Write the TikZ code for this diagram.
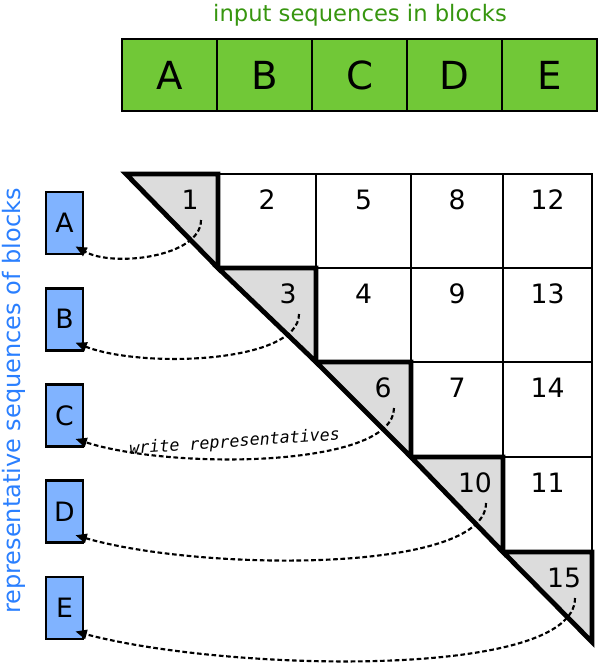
\documentclass[tikz,border=0pt]{standalone}
\usepackage{fontspec}
\setmainfont{DejaVu Sans}
\setmonofont{DejaVu Sans Mono}
\usetikzlibrary{arrows.meta, calc, positioning}

\definecolor{blockgreen}{RGB}{113,200,55}
\definecolor{titlegreen}{RGB}{55,150,15}
\definecolor{repblue}{RGB}{128,179,255}
\definecolor{labelblue}{RGB}{42,127,255}
\definecolor{diaggray}{RGB}{220,220,220}

\begin{document}
\begin{tikzpicture}[
  x=0.75pt, y=-0.75pt,
  >={Triangle[length=8.5pt, width=7pt]},
  block/.style={rectangle, draw, line width=1.6pt, fill=blockgreen, outer sep=0pt,
    minimum width=71.25pt, minimum height=54pt, inner sep=0pt,
    font=\fontsize{29}{34}\selectfont},
  repbox/.style={rectangle, draw, line width=2.2pt, fill=repblue,
    minimum width=27.75pt, minimum height=46.5pt, inner sep=0pt,
    font=\fontsize{20}{24}\selectfont},
  gridcell/.style={draw, line width=1.9pt},
  diagcell/.style={draw, fill=diaggray, line width=3.6pt, line join=miter},
  num/.style={font=\fontsize{20}{24}\selectfont, inner sep=0pt},
  writearrow/.style={->, dash pattern=on 3.5pt off 2pt, line width=1.6pt}
]

\useasboundingbox (0,0) rectangle (600,664);

% Title
\node[font=\fontsize{17}{20}\selectfont, text=titlegreen, anchor=base] (title) at (360,21) {input sequences in blocks};

% Input blocks
\node[block] (bA) at (169.5,75) {A};
\node[block, right=0pt of bA] (bB) {B};
\node[block, right=0pt of bB] (bC) {C};
\node[block, right=0pt of bC] (bD) {D};
\node[block, right=0pt of bD] (bE) {E};

% Grid of blocks
\def\cx{{126,218,316,411,503,592}}
\def\ry{{174,268,362,457,552,642}}
\foreach \r/\c/\n in {0/1/2, 0/2/5, 0/3/8, 0/4/12, 1/2/4, 1/3/9, 1/4/13, 2/3/7, 2/4/14, 3/4/11}{
  \pgfmathsetmacro\xl{\cx[\c]}
  \pgfmathsetmacro\xr{\cx[\c+1]}
  \pgfmathsetmacro\yt{\ry[\r]}
  \pgfmathsetmacro\yb{\ry[\r+1]}
  \draw[gridcell] (\xl,\yt) rectangle (\xr,\yb);
  \node[num] (n\n) at ({(\xl+\xr)/2},\yt+26) {\n};
}

% Diagonal blocks
\foreach \i/\n in {0/1, 1/3, 2/6, 3/10, 4/15}{
  \pgfmathsetmacro\xl{\cx[\i]}
  \pgfmathsetmacro\xr{\cx[\i+1]}
  \pgfmathsetmacro\yt{\ry[\i]}
  \pgfmathsetmacro\yb{\ry[\i+1]}
  \filldraw[diagcell] (\xl,\yt) -- (\xr,\yt) -- (\xr,\yb) -- cycle;
  \node[num] (n\n) at (\xr-28,\yt+26) {\n};
  \coordinate (s\n) at (\xr-17,\yt+46);
}

% Representatives
\foreach \l [count=\k from 0] in {A,B,C,D,E}
  \node[repbox] (r\l) at (64.5,223+96.25*\k) {\l};

\node[rotate=90, anchor=base, text=labelblue, font=\fontsize{18}{22}\selectfont] (replabel) at (21,401) {representative sequences of blocks};

% Write arrows
\foreach \n/\l/\a/\b/\c in {1/A/37/38/21, 3/B/49/67/26, 6/C/60/96/31, 10/D/71/124/36, 15/E/82/150/40}
  \draw[writearrow] (s\n) .. controls +(0,\a) and +(\b,\c) .. ([shift={(-9,-9)}]r\l.south east);

\node[rotate=4, anchor=base, font=\fontsize{12.5}{14}\selectfont\ttfamily\itshape] (writelabel) at (235,447) {write representatives};

\end{tikzpicture}
\end{document}
